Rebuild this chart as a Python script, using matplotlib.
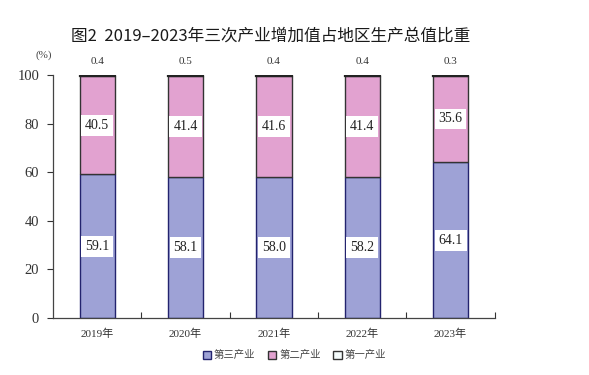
import matplotlib
matplotlib.use("Agg")
import matplotlib.pyplot as plt
from matplotlib.patches import Patch

years = ["2019年", "2020年", "2021年", "2022年", "2023年"]
tertiary = [59.1, 58.1, 58.0, 58.2, 64.1]
secondary = [40.5, 41.4, 41.6, 41.4, 35.6]
primary = [0.4, 0.5, 0.4, 0.4, 0.3]
series_names = ["第三产业", "第二产业", "第一产业"]
yticks = [0, 20, 40, 60, 80, 100]

SERIF = ["Liberation Serif", "Noto Sans CJK SC"]
SANS = ["Noto Sans CJK SC", "DejaVu Sans"]

c_ter = "#9ea2d6"
c_sec = "#e2a2d0"
c_pri = "#f4fbfb"
edge = "#23236e"

fig = plt.figure(figsize=(5.89, 3.75), dpi=100)
ax = fig.add_axes([0.09, 0.152, 0.75, 0.648])

x = list(range(len(years)))
w = 0.40
ax.bar(x, tertiary, width=w, color=c_ter, edgecolor=edge, linewidth=1.0, zorder=2)
bot2 = tertiary
ax.bar(x, secondary, width=w, bottom=bot2, color=c_sec, edgecolor="#333333", linewidth=1.0, zorder=2)
bot3 = [a + b for a, b in zip(tertiary, secondary)]
ax.bar(x, primary, width=w, bottom=bot3, color=c_pri, edgecolor="#222222", linewidth=1.6, zorder=3)

box = dict(boxstyle="square,pad=0.28", fc="white", ec="none")
for i in x:
    ax.text(i, tertiary[i] / 2, f"{tertiary[i]:.1f}", ha="center", va="center",
            fontsize=10, family=SERIF, bbox=box, zorder=5, color="#222222")
    ax.text(i, tertiary[i] + secondary[i] / 2, f"{secondary[i]:.1f}", ha="center", va="center",
            fontsize=10, family=SERIF, bbox=box, zorder=5, color="#222222")
    ax.text(i, 103.5, f"{primary[i]:.1f}", ha="center", va="bottom",
            fontsize=8, family=SERIF, color="#333333")

ax.set_xlim(-0.5, len(years) - 0.5)
ax.set_ylim(0, 100)
ax.set_yticks(yticks)
ax.set_yticklabels([str(t) for t in yticks], fontsize=10.5, family=SERIF, color="#333333")
ax.tick_params(axis="y", direction="out", length=4, width=0.8, pad=6, color="#333333")

ax.set_xticks([i + 0.5 for i in x[:-1]] + [len(years) - 0.5], minor=False)
ax.set_xticklabels([])
ax.tick_params(axis="x", direction="in", length=4, width=0.8, color="#333333")
ax.set_xticks(x, minor=True)
ax.set_xticklabels(years, minor=True, fontsize=8, family=SERIF, color="#333333")
ax.tick_params(axis="x", which="minor", length=0, pad=8)

for s in ["top", "right"]:
    ax.spines[s].set_visible(False)
for s in ["left", "bottom"]:
    ax.spines[s].set_color("#444444")
    ax.spines[s].set_linewidth(0.9)

ax.text(-0.02, 1.06, "(%)", transform=ax.transAxes, ha="center", va="bottom",
        fontsize=8, family=SERIF, color="#444444")

fig.text(0.46, 0.905, "图2  2019–2023年三次产业增加值占地区生产总值比重", ha="center", va="center",
         fontsize=12, family=SANS, color="#1a1a1a")

handles = [Patch(facecolor=c_ter, edgecolor=edge, linewidth=1.0),
           Patch(facecolor=c_sec, edgecolor="#333333", linewidth=1.0),
           Patch(facecolor=c_pri, edgecolor="#333333", linewidth=1.0)]
leg = fig.legend(handles, series_names, loc="center", bbox_to_anchor=(0.5, 0.053), ncol=3,
                 frameon=False, handlelength=0.8, handleheight=0.8, handletextpad=0.3,
                 columnspacing=1.2, prop={"family": SANS, "size": 7.5})
for t in leg.get_texts():
    t.set_color("#444444")

fig.savefig("out.png", dpi=100)
